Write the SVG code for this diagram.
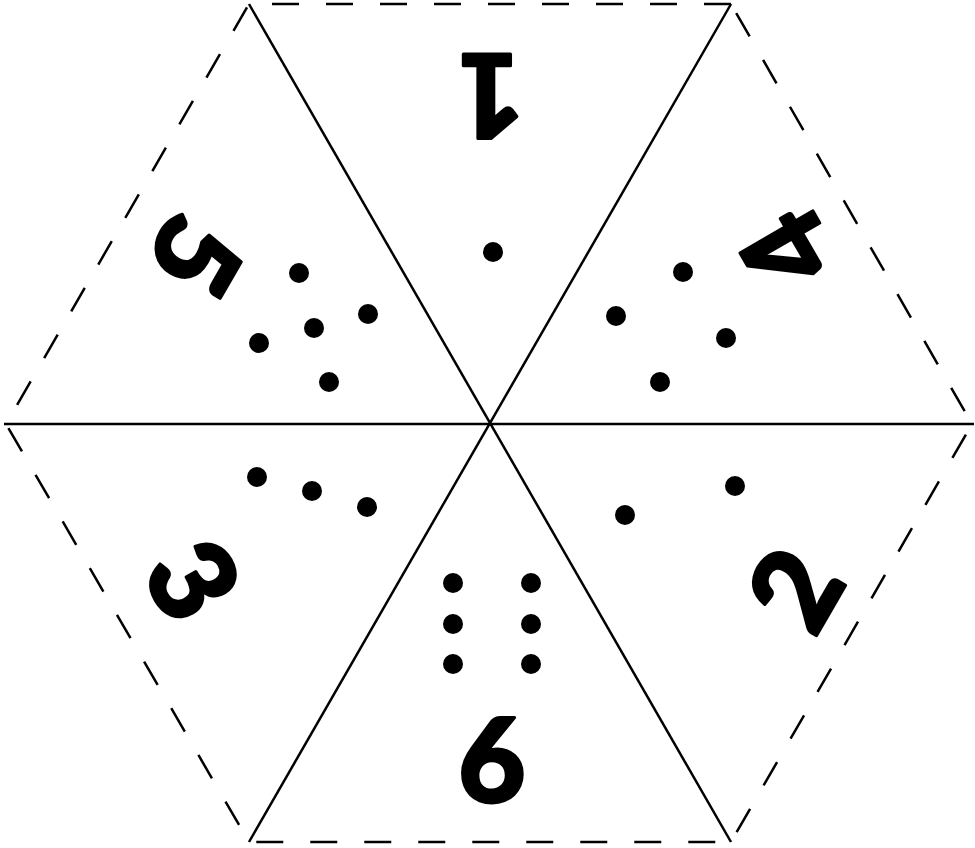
<svg xmlns="http://www.w3.org/2000/svg" width="975" height="848" viewBox="0 0 975 848">
<style>
.edge{fill:none;stroke:#000;stroke-width:2.5;stroke-dasharray:27 27}
.line{fill:none;stroke:#000;stroke-width:2.5}
.dot{fill:#000}
.num{font-family:Lato,"Liberation Sans",sans-serif;font-weight:900;font-size:116px;fill:#000;stroke:#000;stroke-width:3;stroke-linejoin:round;text-anchor:middle}
</style>
<rect width="975" height="848" fill="#fff"/>
<g id="connectors">
<path class="edge" d="M731,4 L249,4 L6,424 L249,842 L731,842 L972,424 Z"/>
<line class="line" x1="249" y1="4" x2="731" y2="842"/>
<line class="line" x1="731" y1="4" x2="249" y2="842"/>
<line class="line" x1="4" y1="424" x2="974" y2="424"/>
</g>
<g id="face1">
<text class="num" transform="translate(490,96) rotate(180)" x="0" y="42">1</text>
<circle class="dot" cx="493" cy="252" r="10"/>
</g>
<g id="face4">
<text class="num" transform="translate(787,250) rotate(-120)" x="0" y="42">4</text>
<circle class="dot" cx="683" cy="272" r="10"/>
<circle class="dot" cx="616" cy="316" r="10"/>
<circle class="dot" cx="726" cy="338" r="10"/>
<circle class="dot" cx="660" cy="382" r="10"/>
</g>
<g id="face5">
<text class="num" transform="translate(196,256) rotate(120)" x="0" y="42">5</text>
<circle class="dot" cx="299" cy="273" r="10"/>
<circle class="dot" cx="368" cy="314" r="10"/>
<circle class="dot" cx="314" cy="328" r="10"/>
<circle class="dot" cx="259" cy="343" r="10"/>
<circle class="dot" cx="329" cy="382" r="10"/>
</g>
<g id="face3">
<text class="num" transform="translate(193,580) rotate(60)" x="0" y="42">3</text>
<circle class="dot" cx="257" cy="477" r="10"/>
<circle class="dot" cx="312" cy="491" r="10"/>
<circle class="dot" cx="367" cy="507" r="10"/>
</g>
<g id="face2">
<text class="num" transform="translate(795,589) rotate(-60)" x="0" y="42">2</text>
<circle class="dot" cx="735" cy="486" r="10"/>
<circle class="dot" cx="625" cy="515" r="10"/>
</g>
<g id="face6">
<text class="num" transform="translate(492,760) rotate(0)" x="0" y="42">6</text>
<circle class="dot" cx="453" cy="583" r="10"/>
<circle class="dot" cx="531" cy="583" r="10"/>
<circle class="dot" cx="453" cy="624" r="10"/>
<circle class="dot" cx="531" cy="624" r="10"/>
<circle class="dot" cx="453" cy="664" r="10"/>
<circle class="dot" cx="531" cy="664" r="10"/>
</g>
</svg>
